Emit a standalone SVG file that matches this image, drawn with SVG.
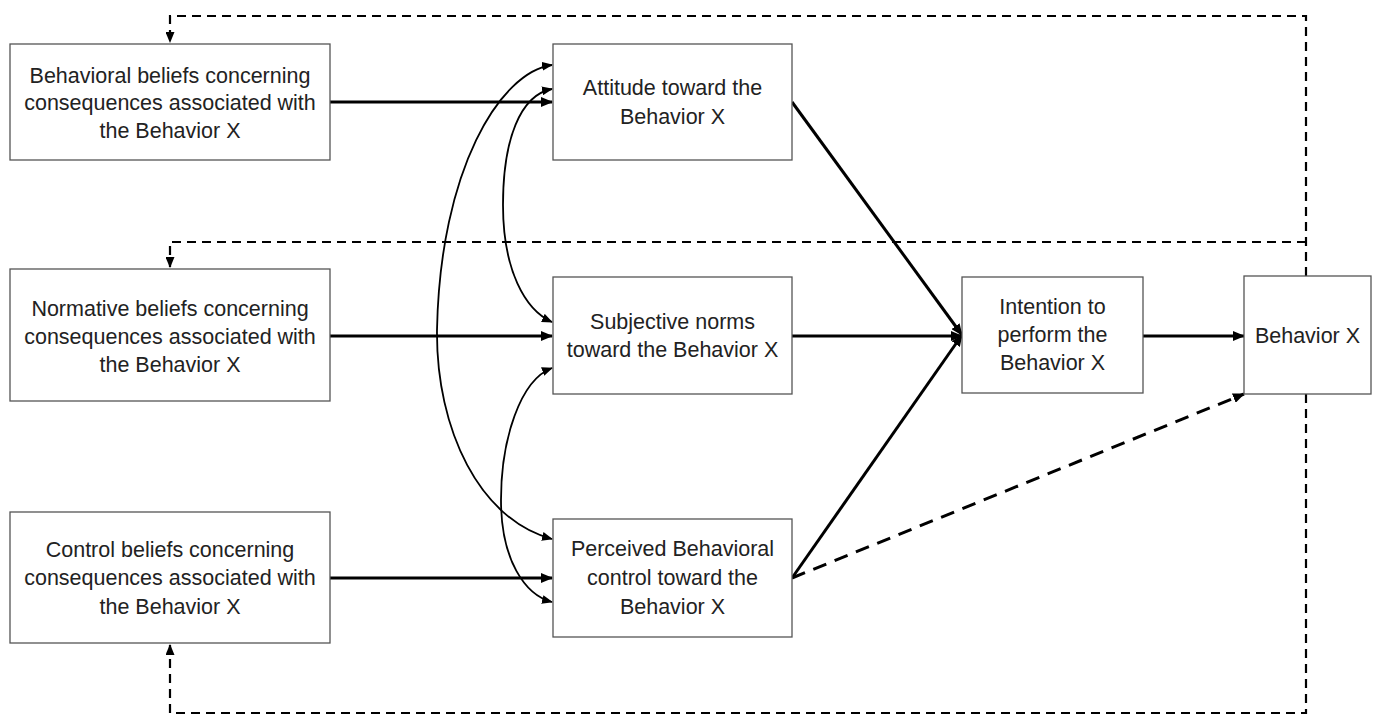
<svg xmlns="http://www.w3.org/2000/svg" width="1376" height="715" viewBox="0 0 1376 715">
<style>
.box{fill:#fff;stroke:#555;stroke-width:1.3}
.t{font-family:"Liberation Sans",Arial,sans-serif;font-size:21.5px;fill:#222;text-anchor:middle}
.thick{fill:none;stroke:#000;stroke-width:3}
.curve{fill:none;stroke:#000;stroke-width:1.8}
.dash{fill:none;stroke:#000;stroke-width:2.2;stroke-dasharray:9 6}
.dashd{fill:none;stroke:#000;stroke-width:3;stroke-dasharray:14 9}
</style>
<defs>
<marker id="ah" markerUnits="userSpaceOnUse" markerWidth="12" markerHeight="10" refX="11" refY="5" orient="auto-start-reverse">
<path d="M0,0 L12,5 L0,10 Z" fill="#000"/>
</marker>
<marker id="ahs" markerUnits="userSpaceOnUse" markerWidth="11" markerHeight="9" refX="10" refY="4.5" orient="auto-start-reverse">
<path d="M0,0 L11,4.5 L0,9 Z" fill="#000"/>
</marker>
</defs>
<rect width="1376" height="715" fill="#fff"/>
<g id="connectors">
<path class="dash" d="M1306,276 V16 H170 V42" marker-end="url(#ahs)"/>
<path class="dash" d="M1306,242 H170 V267" marker-end="url(#ahs)"/>
<path class="dash" d="M1306,394 V713 H170 V645" marker-end="url(#ahs)"/>
<path class="thick" d="M330,102 H552" marker-end="url(#ah)"/>
<path class="thick" d="M330,336 H552" marker-end="url(#ah)"/>
<path class="thick" d="M330,578 H552" marker-end="url(#ah)"/>
<path class="curve" d="M552,65 C500,72 440,170 437,330 C436,430 480,520 552,539" marker-start="url(#ahs)" marker-end="url(#ahs)"/>
<path class="curve" d="M552,89 C520,95 503,140 503,205 C503,270 525,310 552,322" marker-start="url(#ahs)" marker-end="url(#ahs)"/>
<path class="curve" d="M552,368 C520,380 501,440 501,500 C501,560 525,595 552,602" marker-start="url(#ahs)" marker-end="url(#ahs)"/>
<path class="thick" d="M792,102 L962,335" marker-end="url(#ah)"/>
<path class="thick" d="M792,336 H962" marker-end="url(#ah)"/>
<path class="thick" d="M792,578 L962,335" marker-end="url(#ah)"/>
<path class="thick" d="M1143,336 H1244" marker-end="url(#ah)"/>
<path class="dashd" d="M792,578 L1244,394" marker-end="url(#ah)"/>
</g>
<g id="behavioral-beliefs">
<rect class="box" x="10" y="44" width="320" height="116"/>
<text class="t" x="170" y="83">Behavioral beliefs concerning</text>
<text class="t" x="170" y="110">consequences associated with</text>
<text class="t" x="170" y="138">the Behavior X</text>
</g>
<g id="normative-beliefs">
<rect class="box" x="10" y="269" width="320" height="132"/>
<text class="t" x="170" y="316">Normative beliefs concerning</text>
<text class="t" x="170" y="344">consequences associated with</text>
<text class="t" x="170" y="372">the Behavior X</text>
</g>
<g id="control-beliefs">
<rect class="box" x="10" y="512" width="320" height="131"/>
<text class="t" x="170" y="557">Control beliefs concerning</text>
<text class="t" x="170" y="585">consequences associated with</text>
<text class="t" x="170" y="614">the Behavior X</text>
</g>
<g id="attitude">
<rect class="box" x="553" y="44" width="239" height="116"/>
<text class="t" x="672.5" y="95">Attitude toward the</text>
<text class="t" x="672.5" y="124">Behavior X</text>
</g>
<g id="subjective-norms">
<rect class="box" x="553" y="277" width="239" height="117"/>
<text class="t" x="672.5" y="329">Subjective norms</text>
<text class="t" x="672.5" y="357">toward the Behavior X</text>
</g>
<g id="perceived-control">
<rect class="box" x="553" y="519" width="239" height="118"/>
<text class="t" x="672.5" y="556">Perceived Behavioral</text>
<text class="t" x="672.5" y="585">control toward the</text>
<text class="t" x="672.5" y="614">Behavior X</text>
</g>
<g id="intention">
<rect class="box" x="962" y="277" width="181" height="116"/>
<text class="t" x="1052.5" y="314">Intention to</text>
<text class="t" x="1052.5" y="342">perform the</text>
<text class="t" x="1052.5" y="370">Behavior X</text>
</g>
<g id="behavior">
<rect class="box" x="1244" y="276" width="127" height="118"/>
<text class="t" x="1307.5" y="343">Behavior X</text>
</g>
</svg>
